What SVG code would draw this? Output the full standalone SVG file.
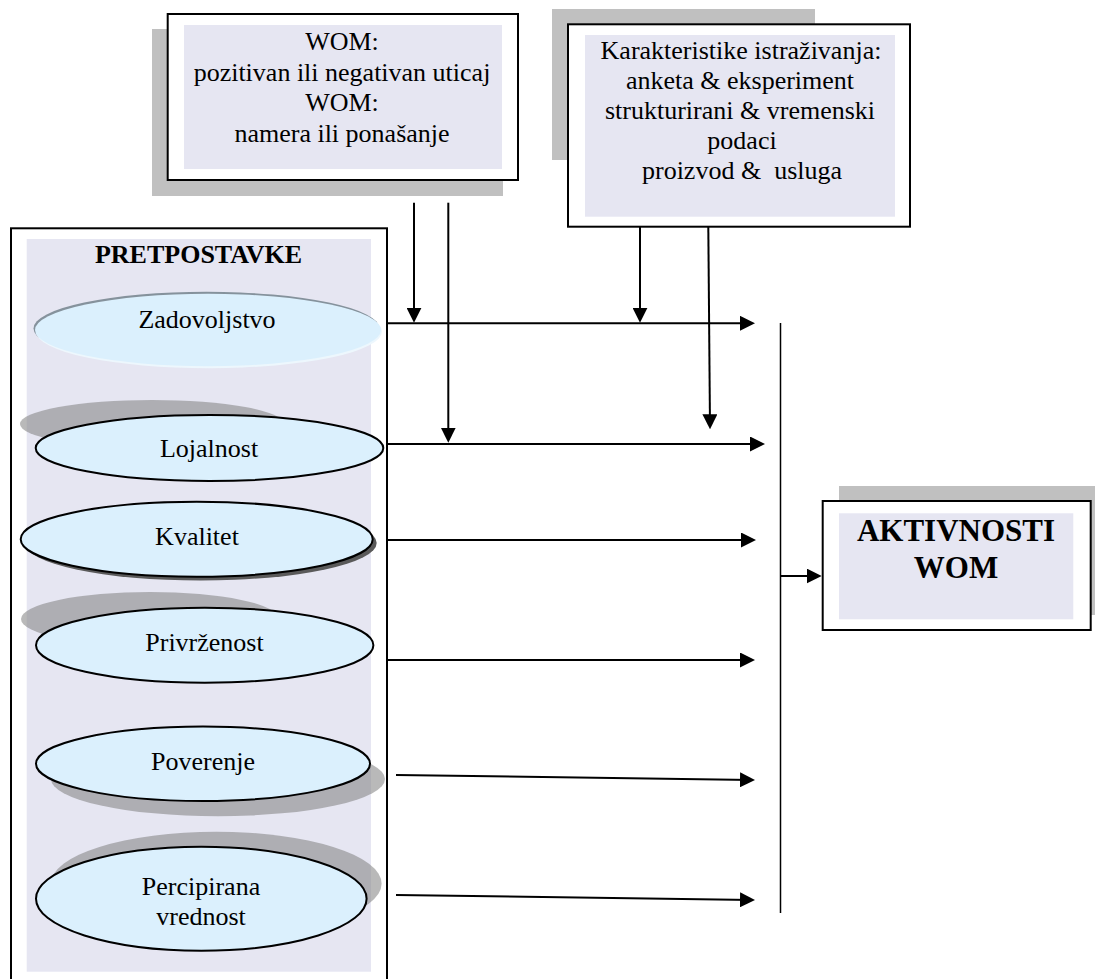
<svg xmlns="http://www.w3.org/2000/svg" width="1095" height="979" viewBox="0 0 1095 979">
  <style>
    .shadow { fill: #c0c0c0; }
    .frame { fill: #ffffff; stroke: #000000; stroke-width: 2; }
    .panel { fill: #e6e6f2; }
    .t { font-family: "Liberation Serif", "Times New Roman", serif; font-size: 26px; fill: #000000; text-anchor: middle; }
    .tb { font-family: "Liberation Serif", "Times New Roman", serif; font-size: 26px; font-weight: bold; fill: #000000; text-anchor: middle; }
    .tbig { font-family: "Liberation Serif", "Times New Roman", serif; font-size: 31px; font-weight: bold; fill: #000000; text-anchor: middle; }
    .oval { fill: #dbf0fd; stroke: #000000; stroke-width: 2; }
    .oshadow { fill: #808080; fill-opacity: 0.55; }
    .oshadow-dark { fill: #5a5a5a; }
    .link { fill: none; stroke: #000000; stroke-width: 2; marker-end: url(#arrow); }
    .bus { fill: none; stroke: #000000; stroke-width: 1.5; }
  </style>
  <defs>
    <marker id="arrow" markerUnits="userSpaceOnUse" markerWidth="15" markerHeight="15" refX="12" refY="7.5" orient="auto">
      <path d="M0,0 L15,7.5 L0,15 Z" fill="#000000"/>
    </marker>
  </defs>

  <!-- WOM influence box -->
  <g id="wom-box">
    <rect class="shadow" x="152" y="29" width="351" height="167"/>
    <rect class="frame" x="167.7" y="14" width="350.3" height="166"/>
    <rect class="panel" x="184" y="25" width="318" height="144"/>
    <text class="t" x="342" y="49.5">WOM:</text>
    <text class="t" x="342" y="80.5">pozitivan ili negativan uticaj</text>
    <text class="t" x="342" y="111">WOM:</text>
    <text class="t" x="342" y="142">namera ili ponašanje</text>
  </g>

  <!-- research characteristics box -->
  <g id="research-box">
    <rect class="shadow" x="552" y="9" width="263" height="151"/>
    <rect class="frame" x="568" y="24.3" width="342" height="202.4"/>
    <rect class="panel" x="585" y="35" width="310" height="181.7"/>
    <text class="t" x="741" y="59">Karakteristike istraživanja:</text>
    <text class="t" x="740" y="89">anketa &amp; eksperiment</text>
    <text class="t" x="740" y="119">strukturirani &amp; vremenski</text>
    <text class="t" x="742" y="149">podaci</text>
    <text class="t" x="742" y="179" xml:space="preserve">proizvod &amp;  usluga</text>
  </g>

  <!-- antecedents panel -->
  <g id="antecedents">
    <rect class="frame" x="11" y="228.3" width="376" height="760"/>
    <rect class="panel" x="26.7" y="239" width="344.3" height="732.7"/>
    <text class="tb" x="198.5" y="263.3">PRETPOSTAVKE</text>
  </g>

  <g id="node-zadovoljstvo">
    <ellipse cx="206.5" cy="328.5" rx="173" ry="36.7" fill="#85929c"/>
    <ellipse cx="209" cy="331.5" rx="173" ry="36.7" fill="#edf7fd"/>
    <ellipse cx="208" cy="330" rx="173" ry="36.2" fill="#dbf0fd"/>
    <text class="t" x="207" y="328.3">Zadovoljstvo</text>
  </g>

  <g id="node-lojalnost">
    <ellipse class="oshadow" cx="152" cy="424" rx="132" ry="24"/>
    <ellipse class="oval" cx="209.5" cy="448" rx="173.8" ry="33"/>
    <text class="t" x="209" y="456.7">Lojalnost</text>
  </g>

  <g id="node-kvalitet">
    <ellipse class="oshadow-dark" cx="200.7" cy="543" rx="176" ry="37.5"/>
    <ellipse class="oval" cx="196.7" cy="539.2" rx="176" ry="37.5"/>
    <text class="t" x="197" y="545">Kvalitet</text>
  </g>

  <g id="node-privrzenost">
    <ellipse class="oshadow" cx="150" cy="619" rx="129" ry="27"/>
    <ellipse class="oval" cx="204.7" cy="645.2" rx="168.7" ry="37.5"/>
    <text class="t" x="204.5" y="650.7">Privrženost</text>
  </g>

  <g id="node-poverenje">
    <ellipse class="oshadow" cx="218" cy="779" rx="167" ry="37.2"/>
    <ellipse class="oval" cx="203" cy="763.8" rx="167" ry="37.2"/>
    <text class="t" x="203" y="770">Poverenje</text>
  </g>

  <g id="node-percipirana">
    <ellipse class="oshadow" cx="216.3" cy="883.7" rx="165.3" ry="52"/>
    <ellipse class="oval" cx="201.3" cy="898.7" rx="165.3" ry="52"/>
    <text class="t" x="201" y="895">Percipirana</text>
    <text class="t" x="201" y="925">vrednost</text>
  </g>

  <!-- outcome box -->
  <g id="wom-activities">
    <rect class="shadow" x="839" y="486" width="270" height="129"/>
    <rect class="frame" x="822.7" y="501" width="268" height="129"/>
    <rect class="panel" x="839" y="513.3" width="234.3" height="106"/>
    <text class="tbig" x="956" y="540.7">AKTIVNOSTI</text>
    <text class="tbig" x="956" y="578.3">WOM</text>
  </g>

  <g id="connectors">
    <!-- antecedents to the collector line -->
    <path class="link" d="M386.7,323.3 H752"/>
    <path class="link" d="M386.7,444 H762"/>
    <path class="link" d="M386,540 H753"/>
    <path class="link" d="M386.7,660 H752"/>
    <path class="link" d="M396,775 L752,780"/>
    <path class="link" d="M396,895 L752,900"/>
    <!-- moderators from the top boxes -->
    <path class="link" d="M414,202.7 V319.7"/>
    <path class="link" d="M448.3,202.7 V439.7"/>
    <path class="link" d="M640,226.7 V319.7"/>
    <path class="link" d="M708.3,226.7 L710,426.3"/>
    <!-- collector line and output -->
    <path class="bus" d="M780.5,323 V913"/>
    <path class="link" d="M780.5,576 H818.7"/>
  </g>
</svg>
